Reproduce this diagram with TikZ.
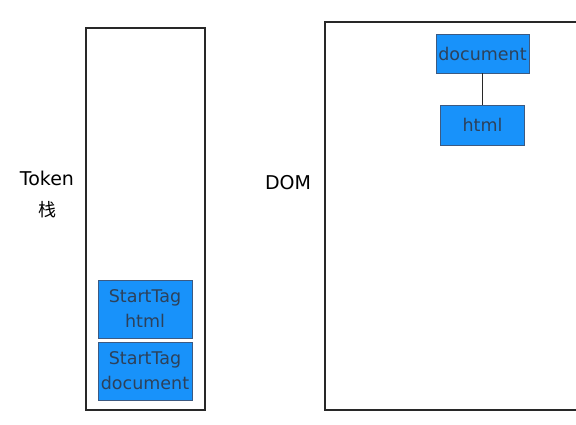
\documentclass[tikz,border=0pt]{standalone}
\usepackage{fontspec}
\setmainfont{DejaVu Sans}
\newfontfamily\cjk{Noto Sans CJK SC}
\usepackage{tikz}
\usetikzlibrary{calc,positioning}
\usepackage{xcolor}
\definecolor{tagblue}{RGB}{24,146,250}
\definecolor{tagtext}{RGB}{45,65,90}
\definecolor{tagedge}{RGB}{60,90,130}
\definecolor{frame}{RGB}{40,40,40}

\begin{document}
\begin{tikzpicture}[x=1pt, y=-1pt,
  panel/.style={draw=frame, line width=1.8pt},
  tagbox/.style={draw=tagedge, fill=tagblue, text=tagtext, inner sep=0pt,
    align=center, font=\fontsize{17.5}{25}\selectfont},
  lbl/.style={text=black, font=\fontsize{19}{22}\selectfont}]
  \useasboundingbox (0,0) rectangle (576,425);
  % the two frames
  \draw[panel] (86,28) rectangle (205,410);
  \draw[panel] (579,22) -- (325,22) -- (325,410) -- (579,410);
  % labels
  \node[lbl] (token) at (47,178) {Token};
  \node[lbl, font=\cjk\fontsize{18}{20}\selectfont] (stack) at (47,210) {栈};
  \node[lbl] (dom) at (288,183) {DOM};
  % token stack
  \node[tagbox, minimum width=94pt, minimum height=58pt] (tagHtml) at (145,309) {StartTag\\html};
  \node[tagbox, minimum width=94pt, minimum height=58pt] (tagDoc) at (145,371) {StartTag\\document};
  % dom tree
  \node[tagbox, minimum width=93pt, minimum height=39pt] (docNode) at (482.5,53.5) {document};
  \node[tagbox, minimum width=84pt, minimum height=40pt] (htmlNode) at (482.5,125) {html};
  \draw[frame, line width=1.4pt] (docNode) -- (htmlNode);
\end{tikzpicture}
\end{document}
